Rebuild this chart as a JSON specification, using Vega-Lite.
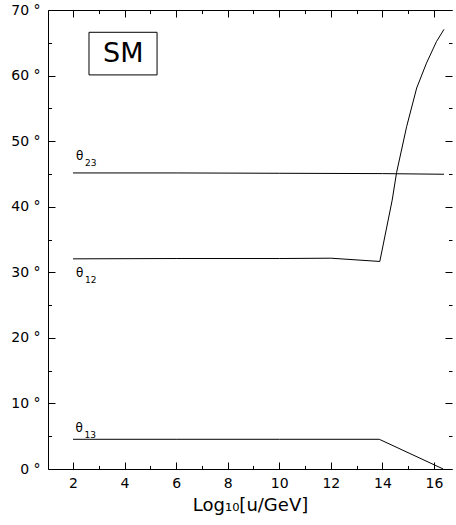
{
  "$schema": "https://vega.github.io/schema/vega-lite/v6.json",
  "width": 404,
  "height": 459,
  "autosize": "none",
  "padding": {"left": 48, "top": 10, "right": 4, "bottom": 56},
  "background": "white",
  "config": {
    "view": {"stroke": null},
    "font": "DejaVu Sans",
    "axis": {"domainColor": "black", "labelColor": "black", "titleColor": "black", "labelFont": "DejaVu Sans", "titleFont": "DejaVu Sans", "titleFontWeight": "normal", "ticks": false, "gridColor": "black", "gridOpacity": 1, "gridWidth": 1}
  },
  "datasets": {
    "lines": [
      {"series": "t23", "x": 2, "y": 45.15},
      {"series": "t23", "x": 6, "y": 45.15},
      {"series": "t23", "x": 10, "y": 45.1},
      {"series": "t23", "x": 14, "y": 45.05},
      {"series": "t23", "x": 16.39, "y": 44.95},
      {"series": "t12", "x": 2, "y": 32.05},
      {"series": "t12", "x": 6, "y": 32.1},
      {"series": "t12", "x": 10, "y": 32.1},
      {"series": "t12", "x": 12, "y": 32.15},
      {"series": "t12", "x": 13.9, "y": 31.65},
      {"series": "t12", "x": 14.38, "y": 41.0},
      {"series": "t12", "x": 14.55, "y": 45.2},
      {"series": "t12", "x": 14.94, "y": 52.2},
      {"series": "t12", "x": 15.33, "y": 58.1},
      {"series": "t12", "x": 15.71, "y": 61.9},
      {"series": "t12", "x": 16.1, "y": 65.2},
      {"series": "t12", "x": 16.39, "y": 67.05},
      {"series": "t13", "x": 2, "y": 4.53},
      {"series": "t13", "x": 6, "y": 4.53},
      {"series": "t13", "x": 10, "y": 4.53},
      {"series": "t13", "x": 13.88, "y": 4.53},
      {"series": "t13", "x": 16.36, "y": 0}
    ],
    "labels": [
      {"label": "θ", "sub": "23", "x": 2.12, "y": 47.2},
      {"label": "θ", "sub": "12", "x": 2.12, "y": 29.3},
      {"label": "θ", "sub": "13", "x": 2.1, "y": 5.7}
    ],
    "box": [
      {"x1": 2.62, "x2": 5.26, "y1": 60.1, "y2": 66.6, "xm": 3.95, "ym": 62.0, "text": "SM"}
    ]
  },
  "layer": [
    {
      "data": {"name": "lines"},
      "mark": {"type": "line", "color": "black", "strokeWidth": 1},
      "encoding": {
        "x": {"field": "x", "type": "quantitative", "scale": {"domain": [1.03, 16.7], "nice": false, "zero": false},
          "axis": {"orient": "bottom", "values": [2, 4, 6, 8, 10, 12, 14, 16], "grid": true, "gridDash": [7, 445, 7], "labelPadding": 7, "labelFontSize": 14, "title": "Log₁₀[u/GeV]", "titleFontSize": 18, "titlePadding": 6}},
        "y": {"field": "y", "type": "quantitative", "scale": {"domain": [0, 70], "nice": false},
          "axis": {"orient": "left", "values": [0, 10, 20, 30, 40, 50, 60, 70], "grid": true, "gridDash": [7, 390, 7], "labelPadding": 8, "labelFontSize": 14, "labelExpr": "datum.value + ' °'", "title": null}},
        "detail": {"field": "series", "type": "nominal"}
      }
    },
    {
      "data": {"name": "labels"},
      "mark": {"type": "text", "align": "left", "baseline": "alphabetic", "fontSize": 12, "color": "black"},
      "encoding": {
        "x": {"field": "x", "type": "quantitative",
          "axis": {"orient": "bottom", "values": [3, 5, 7, 9, 11, 13, 15], "grid": true, "gridDash": [3.5, 452, 3.5], "labels": false, "domain": false, "title": null}},
        "y": {"field": "y", "type": "quantitative",
          "axis": {"orient": "left", "values": [5, 15, 25, 35, 45, 55, 65], "grid": true, "gridDash": [3.5, 397, 3.5], "labels": false, "domain": false, "title": null}},
        "text": {"field": "label"}
      }
    },
    {
      "data": {"name": "labels"},
      "mark": {"type": "text", "align": "left", "baseline": "alphabetic", "fontSize": 9, "dx": 9, "dy": 6.5, "color": "black"},
      "encoding": {
        "x": {"field": "x", "type": "quantitative",
          "axis": {"orient": "top", "values": [2, 4, 6, 8, 10, 12, 14, 16], "grid": false, "labels": false, "domain": true, "title": null}},
        "y": {"field": "y", "type": "quantitative", "axis": null},
        "text": {"field": "sub"}
      }
    },
    {
      "data": {"name": "box"},
      "mark": {"type": "rect", "fill": "white", "stroke": "black", "strokeWidth": 1},
      "encoding": {
        "x": {"field": "x1", "type": "quantitative", "axis": null},
        "x2": {"field": "x2"},
        "y": {"field": "y1", "type": "quantitative", "axis": null},
        "y2": {"field": "y2"}
      }
    },
    {
      "data": {"name": "box"},
      "mark": {"type": "text", "align": "center", "baseline": "alphabetic", "fontSize": 27, "color": "black"},
      "encoding": {
        "x": {"field": "xm", "type": "quantitative", "axis": null},
        "y": {"field": "ym", "type": "quantitative", "axis": null},
        "text": {"field": "text"}
      }
    }
  ],
  "resolve": {"axis": {"x": "independent", "y": "independent"}}
}
